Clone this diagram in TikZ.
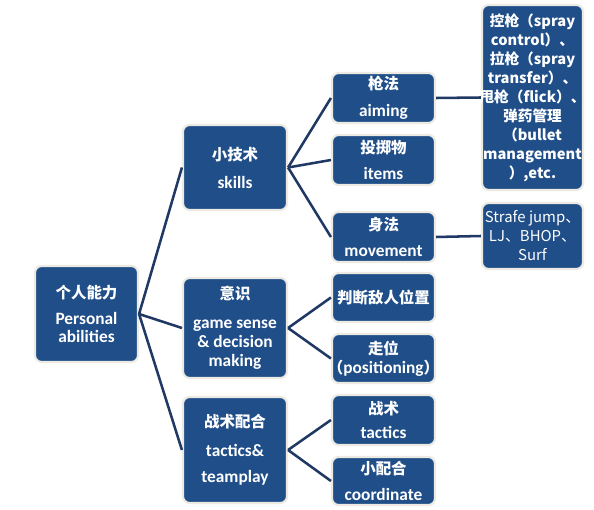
\documentclass[tikz,border=0pt]{standalone}
\usepackage{fontspec}
\setmainfont{Carlito}
\newfontfamily\zhf{Noto Sans CJK SC}
\newcommand\zh{\zhf\fontsize{11.6}{13.5}\selectfont}
\definecolor{boxfill}{HTML}{1F4E89}
\definecolor{boxedge}{HTML}{ECEAE2}
\definecolor{linecol}{HTML}{1F3864}
\begin{document}
\begin{tikzpicture}[x=0.75pt,y=-0.75pt,
  box/.style={draw=boxedge,line width=1.6pt,fill=boxfill,rounded corners=5pt,inner sep=0pt},
  txt/.style={text=white,align=center,inner sep=0pt,font=\bfseries\fontsize{13}{13.5}\selectfont},
  bigtxt/.style={text=white,align=center,inner sep=0pt,font=\zhf\bfseries\fontsize{11}{14.25}\selectfont},
  smalltxt/.style={text=white,align=center,inner sep=0pt,font=\zhf\fontsize{11.2}{14.25}\selectfont},
  conn/.style={draw=linecol,line width=1.9pt}]
\useasboundingbox[fill=white] (0,0) rectangle (594,510);
% boxes
\node[box,minimum width=103*0.75pt,minimum height=96*0.75pt] (root) at (86.5,314) {};
\node[box,minimum width=104*0.75pt,minimum height=85*0.75pt] (skills) at (235,167.5) {};
\node[box,minimum width=104*0.75pt,minimum height=100*0.75pt] (sense) at (235,328) {};
\node[box,minimum width=104*0.75pt,minimum height=106*0.75pt] (team) at (235,450) {};
\node[box,minimum width=103*0.75pt,minimum height=50*0.75pt] (aiming) at (383.5,98) {};
\node[box,minimum width=103*0.75pt,minimum height=50*0.75pt] (items) at (383.5,160) {};
\node[box,minimum width=103*0.75pt,minimum height=50*0.75pt] (move) at (383.5,237) {};
\node[box,minimum width=103*0.75pt,minimum height=49*0.75pt] (enemy) at (383.5,297.5) {};
\node[box,minimum width=103*0.75pt,minimum height=49*0.75pt] (pos) at (383.5,358.5) {};
\node[box,minimum width=103*0.75pt,minimum height=50*0.75pt] (tac) at (383.5,420) {};
\node[box,minimum width=103*0.75pt,minimum height=48*0.75pt] (coord) at (383.5,481) {};
\node[box,minimum width=101*0.75pt,minimum height=185*0.75pt] (big) at (532.5,97.5) {};
\node[box,minimum width=101*0.75pt,minimum height=66*0.75pt] (strafe) at (532.5,236) {};
% connectors
\draw[conn] (root.east) -- (skills.west);
\draw[conn] (root.east) -- (sense.west);
\draw[conn] (root.east) -- (team.west);
\draw[conn] (skills.east) -- (aiming.west);
\draw[conn] (skills.east) -- (items.west);
\draw[conn] (skills.east) -- (move.west);
\draw[conn] (sense.east) -- (enemy.west);
\draw[conn] (sense.east) -- (pos.west);
\draw[conn] (team.east) -- (tac.west);
\draw[conn] (team.east) -- (coord.west);
\draw[conn] (aiming.east) -- (big.west);
\draw[conn] (move.east) -- (strafe.west);
% texts
\node[txt] (root-t) at (root) {{\zh 个人能力}\\[6pt]Personal\\abilities};
\node[txt] (skills-t) at (skills) {{\zh 小技术}\\[7.5pt]skills};
\node[txt] (sense-t) at (sense) {{\zh 意识}\\[8pt]game sense\\[0.75pt]\& decision\\[0.75pt]making};
\node[txt] (team-t) at (team) {{\zh 战术配合}\\[8pt]tactics\&\\[6pt]teamplay};
\node[txt] (aiming-t) at (aiming) {{\zh 枪法}\\[6.5pt]aiming};
\node[txt] (items-t) at (items) {{\zh 投掷物}\\[6.5pt]items};
\node[txt] (move-t) at (move) {{\zh 身法}\\[6.5pt]movement};
\node[txt] (enemy-t) at (enemy) {\zh 判断敌人位置};
\node[txt] (pos-t) at (pos) {{\zh 走位}\\[0.75pt]{\zh （}positioning{\zh ）}};
\node[txt] (tac-t) at (tac) {{\zh 战术}\\[5pt]tactics};
\node[txt] (coord-t) at (coord) {{\zh 小配合}\\[6pt]coordinate};
\node[bigtxt] (big-t) at (big) {控枪（spray\\control）、\\拉枪（spray\\transfer）、\\甩枪（flick）、\\弹药管理\\（bullet\\management\\）,etc.};
\node[smalltxt] (strafe-t) at (strafe) {Strafe jump、\\LJ、BHOP、\\Surf};
\end{tikzpicture}
\end{document}
